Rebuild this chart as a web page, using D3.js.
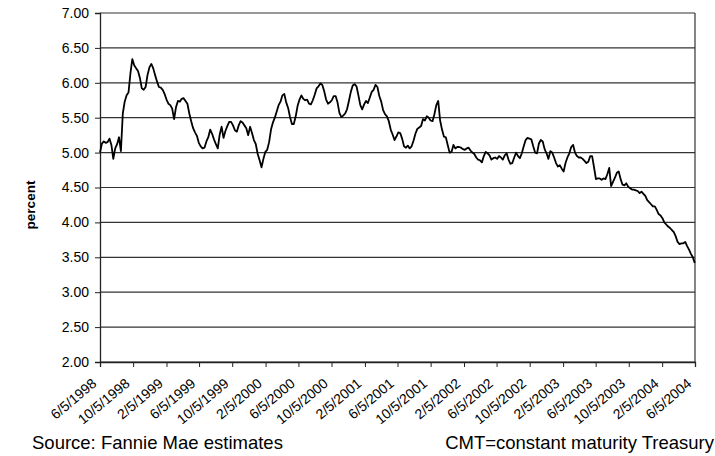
<!DOCTYPE html>
<html>
<head>
<meta charset="utf-8">
<script src="https://cdn.jsdelivr.net/npm/d3@7"></script>
<style>
  body { margin: 0; background: #fff; }
  text { font-family: "Liberation Sans", Arial, sans-serif; fill: #000; }
</style>
</head>
<body>
<script>
// weekly series (Fridays) starting 6/5/1998
var startDate = "6/5/1998",
    endDate = "6/5/2004";

var yieldValues = [
  5.00, 5.13, 5.16, 5.14, 5.15, 5.20, 5.11, 4.91, 5.06, 5.12,
  5.22, 5.02, 5.56, 5.73, 5.82, 5.86, 6.13, 6.34, 6.25, 6.21,
  6.17, 6.07, 5.92, 5.90, 5.94, 6.11, 6.22, 6.27, 6.21, 6.11,
  6.02, 5.94, 5.93, 5.90, 5.84, 5.76, 5.70, 5.68, 5.63, 5.48,
  5.65, 5.74, 5.73, 5.77, 5.78, 5.74, 5.70, 5.56, 5.45, 5.35,
  5.29, 5.24, 5.14, 5.09, 5.06, 5.07, 5.16, 5.22, 5.33, 5.27,
  5.19, 5.12, 5.06, 5.26, 5.37, 5.21, 5.31, 5.38, 5.44, 5.44,
  5.39, 5.32, 5.30, 5.39, 5.45, 5.43, 5.39, 5.35, 5.25, 5.37,
  5.28, 5.18, 5.12, 4.98, 4.89, 4.79, 4.91, 5.01, 5.04, 5.15,
  5.33, 5.43, 5.50, 5.59, 5.68, 5.73, 5.82, 5.84, 5.72, 5.64,
  5.51, 5.41, 5.41, 5.52, 5.67, 5.76, 5.82, 5.77, 5.75, 5.76,
  5.70, 5.69, 5.75, 5.83, 5.92, 5.95, 5.99, 5.97, 5.88, 5.76,
  5.70, 5.72, 5.75, 5.81, 5.81, 5.72, 5.57, 5.51, 5.53, 5.56,
  5.62, 5.74, 5.87, 5.96, 5.98, 5.95, 5.82, 5.68, 5.62, 5.69,
  5.74, 5.71, 5.79, 5.87, 5.90, 5.97, 5.94, 5.81, 5.73, 5.61,
  5.55, 5.52, 5.45, 5.33, 5.26, 5.18, 5.23, 5.29, 5.28, 5.20,
  5.09, 5.07, 5.10, 5.06, 5.09, 5.17, 5.27, 5.34, 5.36, 5.38,
  5.48, 5.46, 5.52, 5.50, 5.46, 5.45, 5.55, 5.68, 5.74, 5.46,
  5.33, 5.23, 5.22, 5.11, 5.00, 5.01, 5.11, 5.06, 5.08, 5.08,
  5.07, 5.05, 5.04, 5.06, 5.07, 5.03, 5.00, 4.98, 4.93, 4.90,
  4.89, 4.86, 4.95, 5.01, 4.99, 4.96, 4.90, 4.92, 4.93, 4.91,
  4.95, 4.93, 4.90, 4.96, 4.99, 4.90, 4.84, 4.85, 4.93, 5.00,
  4.95, 4.92, 4.99, 5.09, 5.18, 5.21, 5.20, 5.19, 5.09, 5.00,
  4.99, 5.13, 5.18, 5.16, 5.05, 4.99, 4.91, 5.02, 5.00, 4.93,
  4.85, 4.80, 4.82, 4.77, 4.73, 4.85, 4.93, 4.99, 5.08, 5.11,
  5.00, 4.95, 4.93, 4.93, 4.91, 4.88, 4.85, 4.87, 4.95, 4.95,
  4.79, 4.62, 4.63, 4.63, 4.61, 4.63, 4.62, 4.69, 4.78, 4.52,
  4.58, 4.64, 4.71, 4.73, 4.62, 4.54, 4.53, 4.56, 4.51, 4.49,
  4.47, 4.47, 4.46, 4.45, 4.42, 4.44, 4.41, 4.38, 4.32, 4.29,
  4.26, 4.23, 4.23, 4.18, 4.12, 4.10, 4.06, 4.00, 3.97, 3.94,
  3.92, 3.89, 3.86, 3.80, 3.72, 3.69, 3.70, 3.70, 3.72, 3.66,
  3.61, 3.55, 3.50, 3.42
];

var xTickLabels = [
  "6/5/1998", "10/5/1998", "2/5/1999", "6/5/1999", "10/5/1999",
  "2/5/2000", "6/5/2000", "10/5/2000", "2/5/2001", "6/5/2001",
  "10/5/2001", "2/5/2002", "6/5/2002", "10/5/2002", "2/5/2003",
  "6/5/2003", "10/5/2003", "2/5/2004", "6/5/2004"
];

var yTicks = [2.00, 2.50, 3.00, 3.50, 4.00, 4.50, 5.00, 5.50, 6.00, 6.50, 7.00];

var yTitle = "percent",
    sourceNote = "Source: Fannie Mae estimates",
    cmtNote = "CMT=constant maturity Treasury";

var width = 715,
    height = 456;

var parse = d3.timeParse("%m/%d/%Y");

var svg = d3.select("body")
    .append("svg")
    .attr("width", width)
    .attr("height", height);

svg.append("rect")
    .attr("width", width)
    .attr("height", height)
    .attr("fill", "#fff");

var x = d3.scaleTime()
    .domain([parse(startDate), parse(endDate)])
    .range([100, 695]);

var y = d3.scaleLinear()
    .domain([2, 7])
    .range([362, 13]);

// weekly Friday dates for the series
var dates = d3.timeFriday.range(parse(startDate), d3.timeDay.offset(parse(endDate), 1));
var data = yieldValues.map(function(v, i) {
    return { date: dates[i], value: v };
});

//gridlines
svg.selectAll(".grid")
    .data(yTicks)
    .enter()
    .append("line")
    .attr("class", "grid")
    .attr("x1", x.range()[0])
    .attr("x2", x.range()[1])
    .attr("y1", function(d){ return y(d); })
    .attr("y2", function(d){ return y(d); })
    .attr("stroke", "#333")
    .attr("stroke-width", 1.2);

//right border
svg.append("line")
    .attr("x1", x.range()[1]).attr("x2", x.range()[1])
    .attr("y1", y(7)).attr("y2", y(2))
    .attr("stroke", "#333")
    .attr("stroke-width", 1.2);

//y axis
var yAxis = d3.axisLeft(y)
    .tickValues(yTicks)
    .tickFormat(d3.format(".2f"))
    .tickSize(5)
    .tickPadding(6);

var yG = svg.append("g")
    .attr("transform", "translate(" + x.range()[0] + ",0)")
    .call(yAxis);
yG.select(".domain").attr("stroke", "#222").attr("stroke-width", 1.3);
yG.selectAll(".tick line").attr("stroke", "#222");
yG.selectAll("text")
    .style("font-size", "14px")
    .attr("fill", "#000");

//x axis
var xAxis = d3.axisBottom(x)
    .tickValues(xTickLabels.map(parse))
    .tickFormat(function(d, i){ return xTickLabels[i]; })
    .tickSize(5);

var xG = svg.append("g")
    .attr("transform", "translate(0," + y(2) + ")")
    .call(xAxis);
xG.select(".domain").attr("stroke", "#222").attr("stroke-width", 1.3);
xG.selectAll(".tick line").attr("stroke", "#222");
xG.selectAll("text")
    .style("font-size", "14px")
    .attr("fill", "#000")
    .attr("text-anchor", "end")
    .attr("dy", null)
    .attr("y", 0)
    .attr("transform", "translate(-3,23) rotate(-40)");

//the series
var line = d3.line()
    .x(function(d){ return x(d.date); })
    .y(function(d){ return y(d.value); });

svg.append("path")
    .datum(data)
    .attr("d", line)
    .attr("fill", "none")
    .attr("stroke", "#000")
    .attr("stroke-width", 1.8)
    .attr("stroke-linejoin", "round");

//axis title
svg.append("text")
    .attr("transform", "translate(35,205) rotate(-90)")
    .attr("text-anchor", "middle")
    .style("font-size", "13.5px")
    .style("font-weight", "bold")
    .text(yTitle);

//notes
svg.append("text")
    .attr("x", 32)
    .attr("y", 449)
    .style("font-size", "18.5px")
    .text(sourceNote);

svg.append("text")
    .attr("x", 714)
    .attr("y", 449)
    .attr("text-anchor", "end")
    .style("font-size", "18.5px")
    .text(cmtNote);
</script>
</body>
</html>
